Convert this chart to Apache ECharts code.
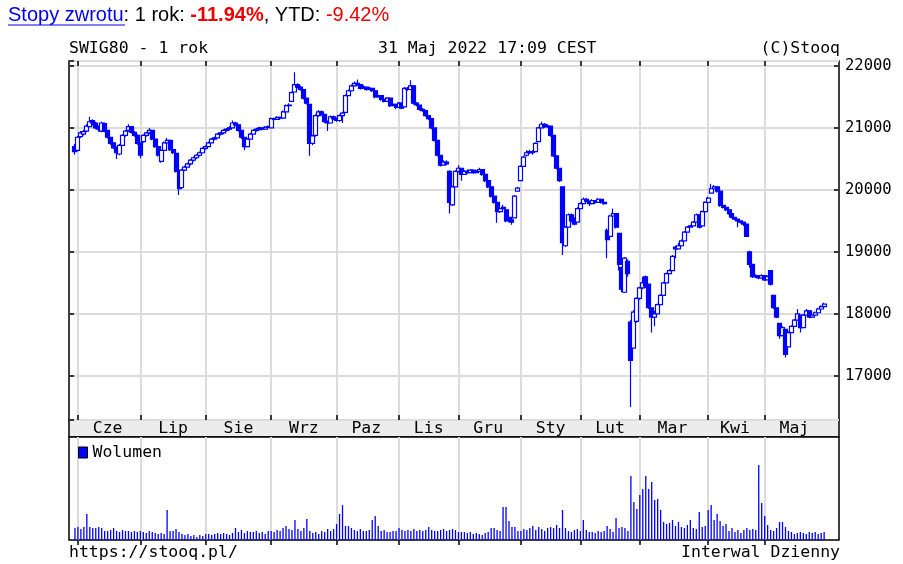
<!DOCTYPE html>
<html><head><meta charset="utf-8">
<script src="https://cdn.jsdelivr.net/npm/echarts@6/dist/echarts.min.js"></script>
<style>html,body{margin:0;padding:0;background:#fff}#c{width:903px;height:564px}</style>
</head><body><div id="c"></div>
<script>
// ---- trading calendar (GPW) ----
const startDate = '2021-05-31';
const endDate = '2022-05-31';
const holidays = ['2021-06-03','2021-11-01','2021-11-11','2021-12-24','2021-12-31','2022-01-06','2022-04-15','2022-04-18','2022-05-03'];
const monthLabels = ['Sty','Lut','Mar','Kwi','Maj','Cze','Lip','Sie','Wrz','Paz','Lis','Gru'];
const yTicks = [17000, 18000, 19000, 20000, 21000, 22000];

// ---- OHLC, one value per trading day ----
const opens = [20700,
 20640,20860,20900,20950,21020,21120,21080,21010,20950,21070,20960,20850,20760,20690,20580,20720,20880,20960,21020,20930,20880,
 20760,20780,20880,20920,20960,20820,20700,20460,20640,20760,20800,20650,20590,20280,20040,20320,20370,20420,20480,20520,20560,20600,
 20670,20700,20760,20820,20840,20900,20920,20960,20980,21000,21080,21050,20960,20850,20700,20820,20900,20960,20980,21000,20980,21010,
 21000,21150,21140,21170,21160,21260,21360,21430,21580,21700,21660,21620,21480,21380,20750,20880,21200,21260,21220,21100,21080,21180,
 21150,21120,21200,21250,21520,21600,21680,21720,21700,21640,21660,21620,21640,21600,21500,21520,21460,21430,21480,21360,21380,
 21330,21400,21340,21640,21620,21680,21400,21370,21300,21280,21200,21150,21000,20800,20560,20400,20450,20300,19760,20050,
 20300,20350,20250,20300,20280,20320,20280,20300,20330,20250,20150,20050,19900,19800,19650,19700,19680,19560,19520,19550,19980,
 20150,20380,20560,20600,20620,20620,20780,21000,21060,21020,21030,20880,20550,20350,20050,19100,19400,19600,19500,19480,
 19700,19780,19850,19820,19780,19830,19800,19850,19800,19350,19250,19580,19620,19300,18750,18350,18850,17870,17450,17880,
 18250,18420,18600,18480,18100,17950,18000,18150,18300,18500,18650,18700,19080,19050,19100,19180,19320,19400,19420,19480,19600,19420,19650,
 19800,19950,20020,20050,19980,19750,19720,19680,19620,19560,19530,19500,19480,19450,19000,18800,18600,18620,18580,
 18620,18550,18700,18300,18100,17850,17650,17750,17470,17700,17800,17900,17980,17780,17980,18050,17950,17980,18020,18080,18120];
const closes = [20620,
 20850,20920,20940,21030,21100,21080,21000,20980,21080,20950,20850,20750,20680,20600,20720,20880,20950,21020,20930,20880,20750,
 20560,20880,20920,20960,20820,20700,20560,20640,20760,20800,20650,20600,20300,20020,20320,20370,20420,20480,20520,20560,20600,20670,
 20700,20760,20820,20840,20900,20920,20960,20980,21000,21080,21050,20960,20850,20700,20820,20900,20960,20980,21000,20980,21010,21020,
 21150,21140,21170,21160,21260,21360,21370,21570,21700,21660,21620,21480,21400,20750,20870,21200,21260,21220,21100,21080,21180,21150,
 21120,21200,21240,21520,21600,21680,21720,21700,21640,21660,21620,21640,21600,21500,21520,21460,21430,21480,21360,21380,21330,
 21400,21320,21640,21620,21680,21400,21370,21300,21280,21200,21150,21000,20800,20560,20400,20450,20420,19800,20050,20300,
 20350,20250,20300,20280,20320,20280,20300,20330,20250,20150,20050,19900,19800,19650,19700,19720,19500,19520,19480,19900,20030,
 20380,20530,20600,20620,20600,20750,21000,21060,21020,21030,20880,20550,20350,20150,19150,19400,19600,19500,19450,19700,
 19780,19850,19820,19780,19830,19800,19850,19800,19780,19200,19580,19620,19400,18800,18400,18900,18650,17250,18030,18250,
 18420,18500,18450,18100,17950,18000,18150,18300,18500,18650,18700,18930,19050,19100,19180,19320,19400,19420,19480,19600,19400,19650,19800,
 19870,20020,20050,19980,19750,19720,19680,19620,19560,19530,19500,19480,19450,19250,18800,18600,18620,18580,18620,
 18550,18600,18480,18100,17950,17650,17780,17350,17700,17800,17900,18000,17780,17980,18050,17950,17980,18020,18080,18120,18160];
const highs = [20740,
 20870,20950,20970,21060,21180,21140,21100,21040,21100,21090,20970,20860,20770,20700,20740,20900,20970,21060,21030,20950,20900,
 20770,20900,20940,21000,20970,20830,20710,20660,20780,20840,20810,20660,20600,20290,20340,20390,20440,20500,20540,20580,20620,20690,
 20720,20780,20840,20860,20920,20940,20980,21000,21030,21120,21100,21060,20970,20860,20840,20920,20980,21000,21020,21010,21030,21040,
 21170,21170,21190,21180,21280,21380,21400,21590,21900,21720,21680,21630,21490,21390,20890,21220,21290,21280,21230,21120,21200,21200,
 21170,21220,21260,21540,21620,21700,21750,21780,21710,21690,21670,21660,21650,21610,21540,21530,21470,21500,21490,21400,21390,
 21420,21410,21660,21660,21770,21690,21420,21380,21320,21290,21210,21160,21010,20810,20570,20480,20480,20320,20070,20320,
 20400,20360,20320,20330,20340,20330,20320,20360,20340,20260,20160,20060,19910,19810,19720,19760,19690,19580,19540,19920,20050,
 20400,20550,20640,20650,20640,20770,21020,21100,21080,21060,21040,20890,20560,20360,20060,19420,19620,19620,19560,19720,
 19800,19880,19870,19830,19850,19840,19870,19860,19820,19380,19600,19700,19630,19310,18760,18920,18880,17900,18060,18270,
 18440,18600,18620,18490,18110,18050,18170,18320,18520,18670,18720,18950,19100,19150,19200,19340,19420,19440,19500,19620,19610,19670,19820,
 19890,20100,20080,20060,19990,19760,19730,19690,19630,19570,19540,19510,19490,19460,19020,18810,18640,18630,18640,
 18630,18620,18710,18310,18110,17860,17800,17760,17720,17820,17920,18080,17990,18000,18080,18060,18000,18040,18100,18140,18180];
const lows = [20570,
 20620,20840,20880,20930,21010,21040,20980,20940,20930,20930,20830,20730,20660,20500,20560,20710,20860,20940,20910,20860,20730,
 20510,20760,20860,20900,20800,20680,20540,20440,20630,20740,20630,20580,20280,19920,20020,20300,20360,20400,20460,20500,20540,20590,
 20650,20690,20750,20800,20830,20880,20900,20940,20960,20990,21030,20940,20820,20640,20690,20810,20890,20940,20960,20960,20970,20990,
 20990,21120,21130,21140,21150,21250,21340,21420,21570,21640,21600,21460,21380,20550,20720,20860,21180,21200,21080,20950,21070,21130,
 21100,21100,21080,21240,21510,21590,21670,21680,21620,21630,21600,21610,21580,21480,21490,21440,21410,21420,21340,21350,21300,
 21320,21300,21330,21600,21610,21380,21350,21280,21260,21180,21130,20980,20780,20540,20380,20390,20400,19620,19740,20040,
 20280,20150,20240,20260,20270,20260,20270,20290,20230,20130,20030,19880,19780,19470,19630,19690,19480,19480,19440,19540,19970,
 20140,20370,20540,20580,20570,20610,20770,20990,21000,21000,20860,20530,20330,20130,18950,19080,19390,19480,19430,19470,
 19690,19770,19800,19740,19770,19780,19790,19780,19760,18900,19240,19560,19380,18700,18350,18340,18600,16500,17440,17860,
 18230,18400,18420,18080,17700,17800,17990,18140,18290,18490,18640,18690,18900,19040,19090,19170,19310,19390,19410,19470,19380,19410,19640,
 19790,19940,20000,19960,19730,19700,19660,19600,19540,19510,19400,19460,19420,19240,18750,18580,18580,18560,18570,
 18530,18540,18460,18080,17930,17600,17640,17300,17460,17690,17790,17890,17700,17770,17970,17930,17940,17970,18010,18070,18110];
const volumes = [12,
 13,11,13,26,13,12,12,13,12,9,9,10,12,9,8,10,9,9,8,9,8,
 9,8,7,9,8,7,6,7,6,30,9,9,11,8,6,5,6,4,5,3,5,4,
 6,6,5,6,7,6,7,6,5,7,12,8,10,7,9,8,8,9,7,8,6,9,
 9,8,10,9,12,14,11,10,20,11,9,12,21,9,7,8,6,9,8,11,9,11,
 16,26,35,14,14,12,10,9,11,9,9,10,20,24,14,9,10,8,8,9,9,
 12,10,9,10,9,11,9,10,9,10,13,10,9,9,10,11,9,10,11,10,
 8,8,8,7,8,6,7,6,5,7,8,12,12,10,9,33,33,19,13,13,9,
 9,11,10,12,14,10,13,11,9,12,13,12,15,12,30,12,9,8,10,11,
 9,20,10,8,8,7,9,8,9,14,11,8,22,12,13,12,9,64,38,31,
 45,51,64,51,58,40,41,30,18,16,17,20,14,18,13,12,15,20,12,11,28,13,14,
 30,35,20,26,19,14,16,9,12,8,10,7,10,12,10,11,10,75,37,
 24,15,10,9,12,18,18,13,9,8,6,7,8,7,6,8,7,8,6,7,8];

// ---- build dates ----
function ymd(d){return d.toISOString().slice(0,10);}
const dates = [];
for (let d = new Date(startDate + 'T00:00:00Z'); ymd(d) <= endDate; d.setUTCDate(d.getUTCDate()+1)) {
  const wd = d.getUTCDay();
  const s = ymd(d);
  if (wd !== 0 && wd !== 6 && holidays.indexOf(s) < 0) dates.push(s);
}
const PAD_L = 2, PAD_R = 5;
const cats = [];
for (let i = 0; i < PAD_L; i++) cats.push('padL' + i);
dates.forEach(d => cats.push(d));
for (let i = 0; i < PAD_R; i++) cats.push('padR' + i);

const monthStart = new Set();
const monthMid = new Map();
{
  let first = 0;
  for (let k = 1; k <= dates.length; k++) {
    const endRun = k === dates.length || dates[k].slice(0,7) !== dates[k-1].slice(0,7);
    if (endRun) {
      if (first > 0 || dates[0].slice(8) === '01') {
        const mid = Math.round((first + k - 1) / 2);
        monthMid.set(mid + PAD_L, monthLabels[parseInt(dates[first].slice(5,7),10)-1]);
      }
      if (k < dates.length) { monthStart.add(k + PAD_L); first = k; }
    }
  }
}
const isStart = (idx) => monthStart.has(idx);
const isMid = (idx) => monthMid.has(idx);

const candleRows = dates.map((d,i) => [d, opens[i], closes[i], lows[i], highs[i]]);
const volRows = dates.map((d,i) => [d, volumes[i]]);

const MONO = "'DejaVu Sans Mono', monospace";
const SANS = "'Liberation Sans', Arial, sans-serif";
const BLUE = '#0000ff';
const GRID = '#dcdcdc';
const monoText = {fontFamily: MONO, fontSize: 16.5, color: '#000', fontWeight: 'normal'};
const hdr = {fontFamily: SANS, fontSize: 20, fontWeight: 'normal'};

const chart = echarts.init(document.getElementById('c'), null, {renderer: 'canvas'});
chart.setOption({
  animation: false,
  backgroundColor: '#fff',
  title: [
    {text: '{a|Stopy zwrotu}{b|: 1 rok: }{c|-11.94%}{b|, YTD: }{d|-9.42%}', left: 8, top: 5, padding: 0,
     textStyle: {fontWeight: 'normal', rich: {
       a: Object.assign({}, hdr, {color: '#0000ee'}),
       b: Object.assign({}, hdr, {color: '#000'}),
       c: Object.assign({}, hdr, {color: '#ee0000', fontWeight: 'bold'}),
       d: Object.assign({}, hdr, {color: '#ee0000'})
     }}},
    {text: 'SWIG80 - 1 rok', left: 69, top: 40, padding: 0, textStyle: monoText},
    {text: '31 Maj 2022 17:09 CEST', left: 378, top: 40, padding: 0, textStyle: monoText},
    {text: '(C)Stooq', right: 63, top: 40, padding: 0, textStyle: monoText},
    {text: 'https://stooq.pl/', left: 69, top: 544, padding: 0, textStyle: monoText},
    {text: 'Interwal Dzienny', right: 63, top: 544, padding: 0, textStyle: monoText}
  ],
  graphic: [{type: 'line', shape: {x1: 8, y1: 25, x2: 125, y2: 25}, style: {stroke: '#0000ee', lineWidth: 1}}],
  legend: {data: ['Wolumen'], left: 78, top: 444, padding: 0, icon: 'rect', itemWidth: 9, itemHeight: 11, itemGap: 4,
    itemStyle: {borderColor: '#000', borderWidth: 1}, textStyle: monoText},
  dataset: [{source: candleRows, sourceHeader: false}, {source: volRows, sourceHeader: false}],
  grid: [
    {left: 69, top: 61, width: 770, height: 359, show: true, borderColor: '#000', borderWidth: 1.5, backgroundColor: '#fff'},
    {left: 69, top: 420, width: 770, height: 17, show: true, borderColor: '#000', borderWidth: 1.5, backgroundColor: '#ececec'},
    {left: 69, top: 437, width: 770, height: 103, show: true, borderColor: '#000', borderWidth: 1.5, backgroundColor: '#fff'}
  ],
  xAxis: [
    {gridIndex: 0, type: 'category', data: cats, boundaryGap: false, axisLine: {show: false},
     axisTick: {show: true, inside: true, length: 5, interval: isStart, lineStyle: {color: '#000', width: 1.5}},
     axisLabel: {show: true, interval: isMid, formatter: (v, idx) => monthMid.get(idx) || '', margin: 0,
       fontFamily: MONO, fontSize: 16.5, color: '#000'},
     splitLine: {show: true, interval: isStart, lineStyle: {color: GRID, width: 2}}},
    {gridIndex: 0, type: 'category', data: cats, boundaryGap: false, position: 'top', axisLine: {show: false},
     axisTick: {show: true, inside: true, length: 5, interval: isStart, lineStyle: {color: '#000', width: 1.5}},
     axisLabel: {show: false}, splitLine: {show: false}},
    {gridIndex: 1, type: 'category', data: cats, show: false},
    {gridIndex: 2, type: 'category', data: cats, boundaryGap: false, position: 'top', axisLine: {show: false},
     axisTick: {show: true, inside: true, length: 5, interval: isStart, lineStyle: {color: '#000', width: 1.5}},
     axisLabel: {show: false},
     splitLine: {show: true, interval: isStart, lineStyle: {color: GRID, width: 2}}}
  ],
  yAxis: [
    {gridIndex: 0, type: 'value', position: 'right', min: 16290, max: 22080, splitNumber: 5,
     axisLine: {show: false},
     axisTick: {show: true, inside: true, length: 5, lineStyle: {color: '#000', width: 1.5}},
     axisLabel: {show: true, margin: 6, showMinLabel: false, showMaxLabel: false,
       formatter: v => (yTicks.indexOf(v) >= 0 ? String(v) : ''), fontFamily: MONO, fontSize: 15.5, color: '#000'},
     splitLine: {show: true, lineStyle: {color: GRID, width: 2}}},
    {gridIndex: 0, type: 'value', position: 'left', min: 16290, max: 22080, splitNumber: 5,
     axisLine: {show: false},
     axisTick: {show: true, inside: true, length: 5, lineStyle: {color: '#000', width: 1.5}},
     axisLabel: {show: false}, splitLine: {show: false}},
    {gridIndex: 1, type: 'value', show: false},
    {gridIndex: 2, type: 'value', min: 0, max: 103, show: false}
  ],
  series: [
    {name: 'SWIG80', type: 'candlestick', datasetIndex: 0, xAxisIndex: 0, yAxisIndex: 0,
     encode: {x: 0, y: [1, 2, 3, 4]}, barWidth: 4.5,
     itemStyle: {color: '#ffffff', color0: BLUE, borderColor: BLUE, borderColor0: BLUE, borderWidth: 1.2}},
    {name: 'Wolumen', type: 'bar', datasetIndex: 1, xAxisIndex: 3, yAxisIndex: 3,
     encode: {x: 0, y: 1}, barWidth: 1.3, itemStyle: {color: BLUE}}
  ]
});
</script>
</body></html>
